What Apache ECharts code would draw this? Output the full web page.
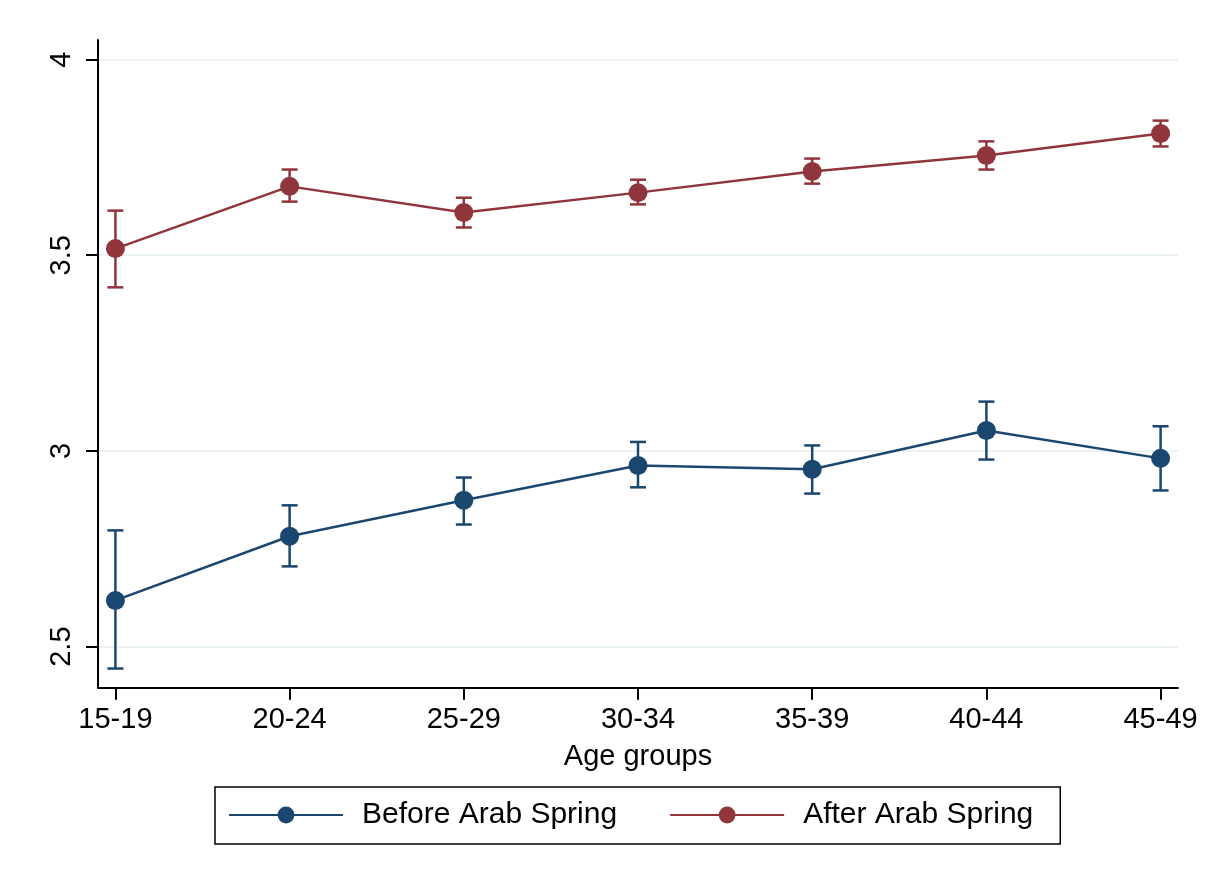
<!DOCTYPE html>
<html>
<head>
<meta charset="utf-8">
<script src="https://cdn.jsdelivr.net/npm/echarts@6/dist/echarts.min.js"></script>
<style>
  html, body { margin: 0; padding: 0; background: #fff; }
  #chart { width: 1205px; height: 878px; }
</style>
</head>
<body>
<div id="chart"></div>
<script>
// ---- Data ----
const categories = ['15-19', '20-24', '25-29', '30-34', '35-39', '40-44', '45-49'];
const yTicks = [2.5, 3, 3.5, 4];

const beforeMean  = [2.618, 2.782, 2.874, 2.963, 2.953, 3.052, 2.981];
const beforeLower = [2.444, 2.705, 2.812, 2.907, 2.891, 2.978, 2.899];
const beforeUpper = [2.797, 2.861, 2.932, 3.023, 3.014, 3.126, 3.063];

const afterMean  = [3.517, 3.676, 3.609, 3.660, 3.714, 3.755, 3.811];
const afterLower = [3.418, 3.637, 3.571, 3.630, 3.683, 3.719, 3.778];
const afterUpper = [3.614, 3.719, 3.647, 3.693, 3.747, 3.791, 3.844];

const seriesNames = ['Before Arab Spring', 'After Arab Spring'];
const colors = ['#1a476f', '#90353b'];

// ---- Build ----
const FONT = '"Liberation Sans", Arial, Helvetica, sans-serif';
const xIdx = categories.map((_, i) => i);

function pts(means) { return means.map((v, i) => [i, v]); }
function bars(lo, hi) { return lo.map((v, i) => [i, v, hi[i]]); }

function errRender(color) {
  return function (params, api) {
    const x = api.value(0);
    const p1 = api.coord([x, api.value(2)]);
    const p2 = api.coord([x, api.value(1)]);
    const hw = 8;
    const st = { stroke: color, lineWidth: 2.5 };
    return {
      type: 'group',
      children: [
        { type: 'line', shape: { x1: p1[0], y1: p1[1], x2: p2[0], y2: p2[1] }, style: st },
        { type: 'line', shape: { x1: p1[0] - hw, y1: p1[1], x2: p1[0] + hw, y2: p1[1] }, style: st },
        { type: 'line', shape: { x1: p2[0] - hw, y1: p2[1], x2: p2[0] + hw, y2: p2[1] }, style: st }
      ]
    };
  };
}

const chart = echarts.init(document.getElementById('chart'), null, { renderer: 'canvas' });

const option = {
  backgroundColor: '#fff',
  animation: false,
  textStyle: { fontFamily: FONT },
  grid: { left: 98, top: 40, width: 1080, height: 647.7, containLabel: false },
  xAxis: {
    type: 'value',
    min: -0.1,
    max: 6.1,
    name: 'Age groups',
    nameLocation: 'middle',
    nameGap: 55,
    nameTextStyle: { fontSize: 29, color: '#000', fontFamily: FONT },
    axisLine: { show: true, onZero: false, lineStyle: { color: '#000', width: 2 } },
    axisTick: { show: true, customValues: xIdx, length: 12, lineStyle: { color: '#000', width: 2 } },
    axisLabel: {
      customValues: xIdx,
      formatter: v => categories[Math.round(v)] || '',
      fontSize: 29, color: '#000', fontFamily: FONT, margin: 18
    },
    splitLine: { show: false }
  },
  yAxis: {
    type: 'value',
    min: 2.395,
    max: 4.05,
    axisLine: { show: true, onZero: false, lineStyle: { color: '#000', width: 2 } },
    axisTick: { show: true, customValues: yTicks, length: 12, lineStyle: { color: '#000', width: 2 } },
    axisLabel: {
      customValues: yTicks,
      formatter: v => String(v),
      rotate: 90,
      fontSize: 29, color: '#000', fontFamily: FONT, margin: 22
    },
    splitLine: { show: true, lineStyle: { color: '#eaf2f3', width: 2 } }
  },
  legend: {
    data: seriesNames,
    left: 215,
    top: 787,
    orient: 'horizontal',
    padding: [13, 27, 14, 13],
    itemGap: 52,
    itemWidth: 114,
    itemHeight: 21,
    borderColor: '#000',
    borderWidth: 1.5,
    textStyle: { fontSize: 30, color: '#000', fontFamily: FONT, padding: [0, 0, 0, 14] }
  },
  series: [
    {
      name: 'err-before', type: 'custom', data: bars(beforeLower, beforeUpper),
      renderItem: errRender(colors[0]), encode: { x: 0, y: [1, 2] }, z: 2
    },
    {
      name: 'err-after', type: 'custom', data: bars(afterLower, afterUpper),
      renderItem: errRender(colors[1]), encode: { x: 0, y: [1, 2] }, z: 2
    },
    {
      name: seriesNames[0], type: 'line', data: pts(beforeMean),
      symbol: 'circle', symbolSize: 19,
      itemStyle: { color: colors[0] },
      lineStyle: { color: colors[0], width: 2.5 }, z: 3
    },
    {
      name: seriesNames[1], type: 'line', data: pts(afterMean),
      symbol: 'circle', symbolSize: 19,
      itemStyle: { color: colors[1] },
      lineStyle: { color: colors[1], width: 2.5 }, z: 3
    }
  ]
};

chart.setOption(option);
</script>
</body>
</html>
